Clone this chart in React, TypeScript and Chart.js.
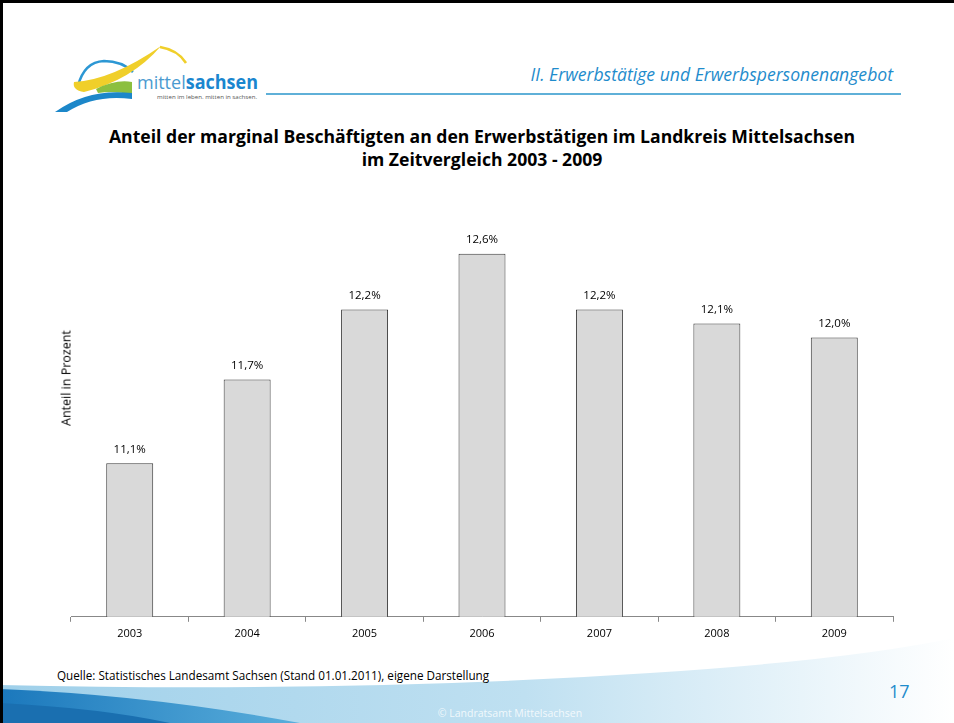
import React, { useEffect, useRef } from "react";
import { Chart, registerables } from "chart.js";

Chart.register(...registerables);

const years = ["2003", "2004", "2005", "2006", "2007", "2008", "2009"];
const shares = [11.1, 11.7, 12.2, 12.6, 12.2, 12.1, 12.0];
const yMin = 10;
const yMax = 13.4;

const chartTitle = [
  "Anteil der marginal Beschäftigten an den Erwerbstätigen im Landkreis Mittelsachsen",
  "im Zeitvergleich 2003 - 2009",
];
const sectionTitle = "II. Erwerbstätige und Erwerbspersonenangebot";
const yAxisTitle = "Anteil in Prozent";
const sourceText = "Quelle: Statistisches Landesamt Sachsen (Stand 01.01.2011), eigene Darstellung";
const pageNumber = "17";
const footerText = "© Landratsamt Mittelsachsen";

const FONT = "'Open Sans', Lato, sans-serif";

const valueLabels = {
  id: "valueLabels",
  afterDatasetsDraw(chart: any) {
    const ctx = chart.ctx;
    const meta = chart.getDatasetMeta(0);
    ctx.save();
    ctx.font = `11.5px ${FONT}`;
    ctx.fillStyle = "#000";
    ctx.textAlign = "center";
    ctx.textBaseline = "bottom";
    meta.data.forEach((bar: any, i: number) => {
      const v = chart.data.datasets[0].data[i] as number;
      ctx.fillText(v.toFixed(1).replace(".", ",") + "%", bar.x, bar.y - 8);
    });
    ctx.restore();
  },
};

function BarChart() {
  const ref = useRef<HTMLCanvasElement>(null);
  useEffect(() => {
    if (!ref.current) return;
    const chart = new Chart(ref.current, {
      type: "bar",
      data: {
        labels: years,
        datasets: [
          {
            data: shares,
            backgroundColor: "#d9d9d9",
            borderColor: "#3a3a3a",
            borderWidth: 1,
            barPercentage: 0.4,
            categoryPercentage: 1,
          },
        ],
      },
      options: {
        animation: false,
        responsive: false,
        maintainAspectRatio: false,
        layout: { padding: { left: 11, right: 12, top: 0, bottom: 0 } },
        plugins: { legend: { display: false }, tooltip: { enabled: false } },
        scales: {
          x: {
            grid: {
              display: true,
              drawOnChartArea: false,
              offset: true,
              tickLength: 5,
              color: "#888",
            },
            border: { display: true, color: "#888", width: 1 },
            ticks: { color: "#000", font: { family: FONT, size: 11 }, padding: 5 },
          },
          y: {
            display: false,
            min: yMin,
            max: yMax,
          },
        },
      },
      plugins: [valueLabels],
    });
    return () => chart.destroy();
  }, []);
  return (
    <canvas
      ref={ref}
      width={845}
      height={503}
      style={{ position: "absolute", left: 60, top: 142, width: 845, height: 503 }}
    />
  );
}

function Logo() {
  return (
    <svg width="240" height="80" viewBox="40 35 240 80" style={{ position: "absolute", left: 40, top: 35 }}>
      <path d="M78 86 Q84 62 104 61 Q122 61 133 72" fill="none" stroke="#2c97d4" strokeWidth="2.5" />
      <path d="M74 82 Q112 80 161 46 Q132 80 84 92 Q72 90 74 82 Z" fill="#f0cf2a" />
      <path d="M160 47 Q178 50 186 63" fill="none" stroke="#f0cf2a" strokeWidth="2.5" />
      <path d="M96 89 Q116 79 132 82 L132 95 Q115 90 98 93 Z" fill="#8cbf3f" />
      <path d="M55 112 Q88 88 132 93 L132 99 Q95 94 67 112 Z" fill="#1c87c9" />
      <text x="137" y="89" fontFamily={FONT} fontSize="19" fill="#4a9ad0" textLength="121" lengthAdjust="spacingAndGlyphs">
        mittel<tspan fontWeight="bold" fill="#1a86cf">sachsen</tspan>
      </text>
      <text x="157" y="99" fontFamily={FONT} fontSize="5.5" fill="#555" textLength="100" lengthAdjust="spacingAndGlyphs">
        mitten im leben. mitten in sachsen.
      </text>
    </svg>
  );
}

function Footer() {
  return (
    <svg width="954" height="100" viewBox="0 0 954 100" style={{ position: "absolute", left: 0, top: 623 }}>
      <defs>
        <linearGradient id="lg1" x1="0" y1="0" x2="1" y2="0">
          <stop offset="0" stopColor="#9fd0ea" />
          <stop offset="0.55" stopColor="#bfe0f1" />
          <stop offset="1" stopColor="#ffffff" />
        </linearGradient>
        <linearGradient id="lg2" x1="0" y1="0" x2="1" y2="0">
          <stop offset="0" stopColor="#1b78bc" />
          <stop offset="1" stopColor="#5aaedb" />
        </linearGradient>
      </defs>
      <path d="M0 62 Q350 70 650 50 Q850 37 954 15 L954 100 L0 100 Z" fill="url(#lg1)" />
      <path d="M0 66 Q150 72 300 100 L0 100 Z" fill="url(#lg2)" />
      <path d="M0 80 Q100 85 170 100 L0 100 Z" fill="#1a6fb0" />
    </svg>
  );
}

export default function App() {
  return (
    <div
      style={{
        position: "absolute",
        left: 0,
        top: 0,
        width: 954,
        height: 723,
        background: "#fff",
        overflow: "hidden",
        fontFamily: FONT,
      }}
    >
      <Footer />
      <div style={{ position: "absolute", left: 0, top: 0, width: 954, height: 3, background: "#000" }} />
      <div style={{ position: "absolute", left: 0, top: 0, width: 3, height: 723, background: "#000" }} />
      <Logo />
      <div
        style={{
          position: "absolute",
          right: 61,
          top: 62,
          fontSize: 17.6,
          fontStyle: "italic",
          color: "#1f8ccc",
          whiteSpace: "nowrap",
        }}
      >
        {sectionTitle}
      </div>
      <div style={{ position: "absolute", left: 266, top: 93, width: 635, height: 2, background: "#5fb0d8" }} />
      <div
        style={{
          position: "absolute",
          left: 0,
          width: 964,
          top: 125,
          textAlign: "center",
          fontWeight: "bold",
          fontSize: 17.6,
          lineHeight: "23px",
          color: "#000",
        }}
      >
        {chartTitle.map((t) => (
          <div key={t}>{t}</div>
        ))}
      </div>
      <BarChart />
      <div
        style={{
          position: "absolute",
          left: 66,
          top: 378,
          transform: "translate(-50%, -50%) rotate(-90deg)",
          fontSize: 12.5,
          whiteSpace: "nowrap",
          color: "#000",
        }}
      >
        {yAxisTitle}
      </div>
      <div style={{ position: "absolute", left: 57, top: 667, fontSize: 11.7, color: "#000", whiteSpace: "nowrap" }}>
        {sourceText}
      </div>
      <div style={{ position: "absolute", left: 889, top: 679, fontSize: 18, color: "#1f8ccc" }}>{pageNumber}</div>
      <div
        style={{
          position: "absolute",
          left: 0,
          width: 1020,
          top: 706,
          textAlign: "center",
          fontSize: 10.5,
          color: "rgba(255,255,255,0.8)",
        }}
      >
        {footerText}
      </div>
    </div>
  );
}
